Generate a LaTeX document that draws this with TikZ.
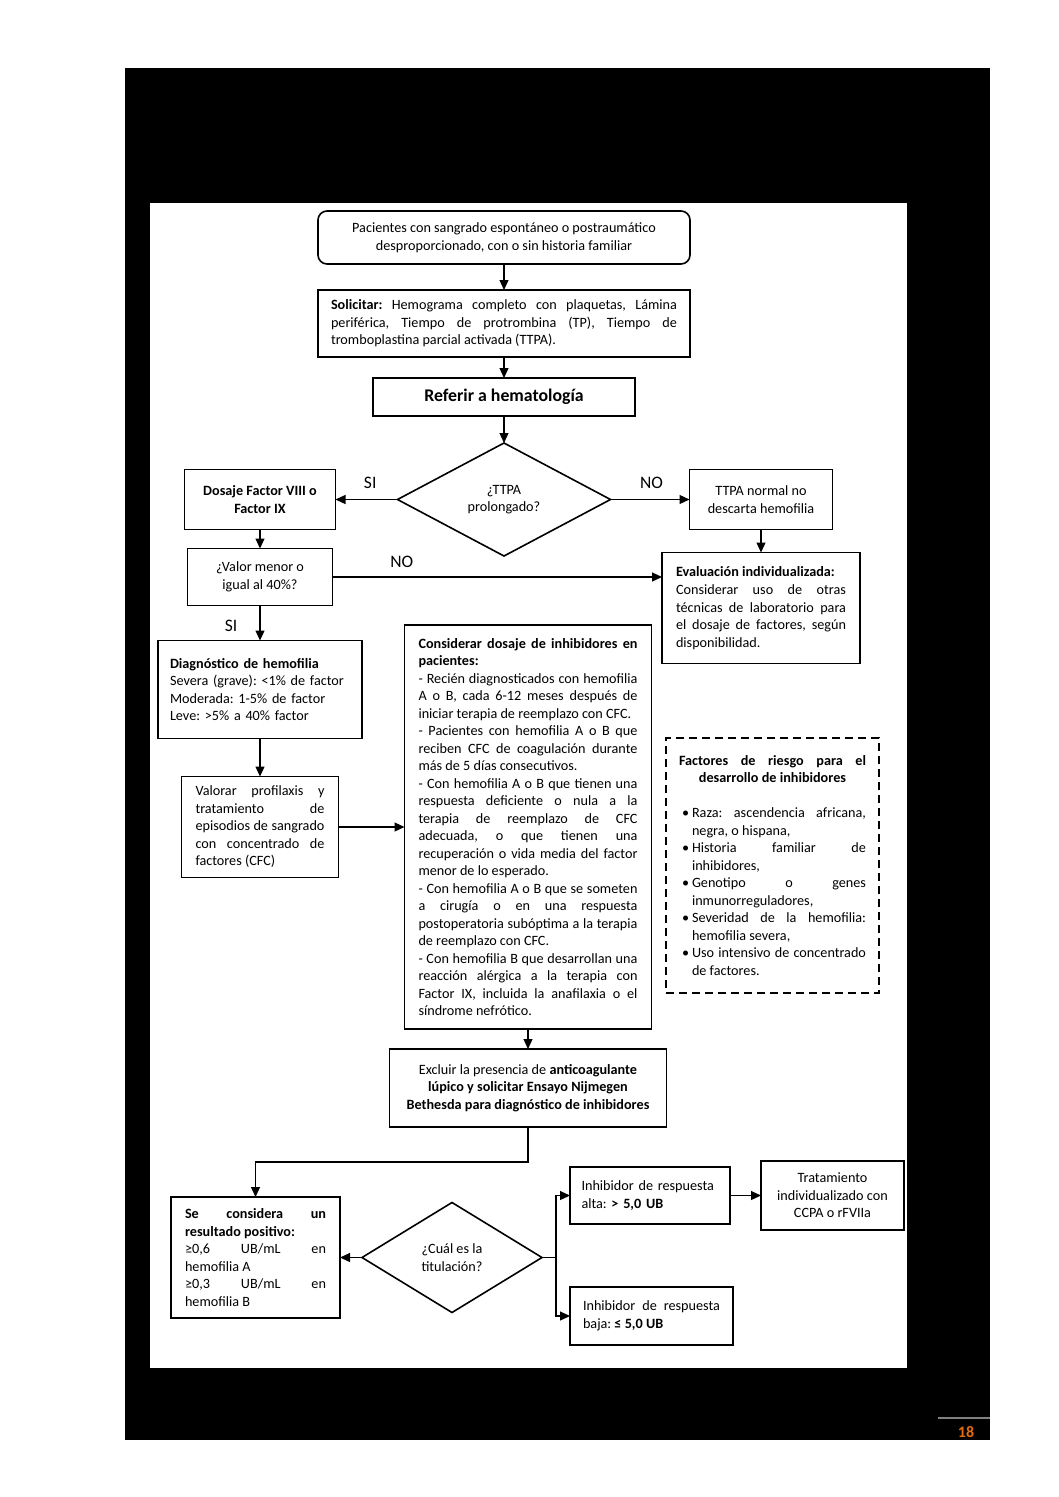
\documentclass[tikz,border=0pt]{standalone}
\usepackage{fontspec}
\setmainfont{Carlito}
\usepackage{xcolor}
\usepackage{tikz}
\usetikzlibrary{%
  shapes.geometric,
  arrows.meta,
  positioning}
\setlength{\parindent}{0pt}
\frenchspacing
\hyphenpenalty=10000
\exhyphenpenalty=10000
\definecolor{pageorange}{RGB}{228,108,10}
\newcommand{\boxfont}{\fontsize{14.2}{17.5}\selectfont}
\newcommand{\riskitem}[1]{\par\hangindent=13pt\hangafter=1%
  \makebox[13pt][l]{\hspace{3pt}\textbullet}#1\par}
\tikzset{
  %% General flow boxes
  flowbox/.style={
    rectangle, draw=black, line width=1.6pt, fill=white,
    inner sep=0pt, outer sep=0pt, align=center, font=\boxfont},
  startbox/.style={flowbox, rounded corners=9pt},
  %% Justified text boxes
  textbox/.style={flowbox, align=justify},
  %% Risk factor box
  riskbox/.style={textbox, line width=1.8pt, dash pattern=on 8pt off 5pt},
  %% Decision diamond
  decision/.style={
    diamond, draw=black, line width=1.6pt, fill=white,
    inner sep=0pt, outer sep=0pt, align=center, font=\boxfont},
  boxsize/.style 2 args={minimum width=#1, minimum height=#2},
  %% Arrows and labels
  arrow/.style={-{Triangle[length=10pt,width=9pt]}, line width=1.2pt, black},
  lbl/.style={font=\fontsize{17.5}{20}\selectfont, inner sep=2pt},
}

\begin{document}
\begin{tikzpicture}[x=1pt, y=-1pt]

  \useasboundingbox (0,0) rectangle (1058,1497);

  %% Page frame
  \fill[black] (125,68) rectangle (990,1440);
  \fill[white] (150,203) rectangle (907,1368);
  \draw[gray, line width=2pt] (938,1418) -- (990,1418);
  \node[font=\fontsize{16}{18}\selectfont\bfseries, text=pageorange] (pagenum) at (966,1432) {18};

  %% Main column
  \node[startbox, boxsize={372pt}{53pt}] (start) at (504,237.5)
    {Pacientes con sangrado espontáneo o postraumático\\
     desproporcionado, con o sin historia familiar};
  \node[textbox, boxsize={372pt}{67pt}, text width=346pt, below=26pt of start] (soli)
    {\textbf{Solicitar:} Hemograma completo con plaquetas, Lámina\linebreak
     periférica, Tiempo de protrombina (TP), Tiempo de\linebreak
     tromboplastina parcial activada (TTPA).};
  \node[flowbox, boxsize={262pt}{38pt}, font=\fontsize{17.8}{20}\selectfont\bfseries,
    below=21pt of soli] (refer) {Referir a hematología};
  \node[decision, boxsize={213pt}{113pt}, below=27pt of refer] (ttpa)
    {¿TTPA\\ prolongado?};

  %% Row: TTPA branches
  \node[flowbox, boxsize={151pt}{60pt}, font=\boxfont\bfseries, left=62pt of ttpa] (dosaje)
    {Dosaje Factor VIII o\\ Factor IX};
  \node[flowbox, boxsize={143pt}{60pt}, right=79pt of ttpa] (normal)
    {TTPA normal no\\ descarta hemofilia};
  \node[textbox, boxsize={198pt}{111pt}, text width=170pt, below=23pt of normal] (evalu)
    {\textbf{Evaluación individualizada:}\\[1pt]
     Considerar uso de otras\linebreak
     técnicas de laboratorio para\linebreak
     el dosaje de factores, según\linebreak
     disponibilidad.};
  \node[flowbox, boxsize={145pt}{57pt}, below=19pt of dosaje] (valor)
    {¿Valor menor o\\ igual al 40\%?};
  \node[flowbox, boxsize={204pt}{98pt}, text width=180pt, align=left,
    below=35pt of valor] (diag)
    {\textbf{Diagnóstico de hemofilia}\\
     Severa (grave): <1\% de factor\\
     Moderada: 1-5\% de factor\\
     Leve: >5\% a 40\% factor};
  \node[textbox, boxsize={157pt}{101pt}, text width=129pt, below=38pt of diag] (valorar)
    {Valorar profilaxis y\linebreak
     tratamiento de\linebreak
     episodios de sangrado\linebreak
     con concentrado de\linebreak
     factores (CFC)};

  %% Inhibitor screening
  \node[textbox, boxsize={247pt}{404pt}, text width=219pt, right=66pt of valorar] (inhib)
    {\textbf{Considerar dosaje de inhibidores en\linebreak pacientes:}\\
     - Recién diagnosticados con hemofilia\linebreak
     A o B, cada 6-12 meses después de\linebreak
     iniciar terapia de reemplazo con CFC.\\
     - Pacientes con hemofilia A o B que\linebreak
     reciben CFC de coagulación durante\linebreak
     más de 5 días consecutivos.\\
     - Con hemofilia A o B que tienen una\linebreak
     respuesta deficiente o nula a la\linebreak
     terapia de reemplazo de CFC\linebreak
     adecuada, o que tienen una\linebreak
     recuperación o vida media del factor\linebreak
     menor de lo esperado.\\
     - Con hemofilia A o B que se someten\linebreak
     a cirugía o en una respuesta\linebreak
     postoperatoria subóptima a la terapia\linebreak
     de reemplazo con CFC.\\
     - Con hemofilia B que desarrollan una\linebreak
     reacción alérgica a la terapia con\linebreak
     Factor IX, incluida la anafilaxia o el\linebreak
     síndrome nefrótico.};
  \node[riskbox, boxsize={213pt}{255pt}, text width=187pt] (riesgo) at (772.5,865.5)
    {{\bfseries Factores de riesgo para el\linebreak
      \hspace*{\fill}desarrollo de inhibidores\hspace*{\fill}}\par
     \vskip17.5pt
     \riskitem{Raza: ascendencia africana,\linebreak negra, o hispana,}
     \riskitem{Historia familiar de\linebreak inhibidores,}
     \riskitem{Genotipo o genes\linebreak inmunorreguladores,}
     \riskitem{Severidad de la hemofilia:\linebreak hemofilia severa,}
     \riskitem{Uso intensivo de concentrado\linebreak de factores.}};
  \node[flowbox, boxsize={277pt}{78pt}, below=20pt of inhib] (excl)
    {Excluir la presencia de \textbf{anticoagulante}\\
     \textbf{lúpico y solicitar Ensayo Nijmegen}\\
     \textbf{Bethesda para diagnóstico de inhibidores}};

  %% Bottom row: titration
  \node[textbox, boxsize={169pt}{121pt}, text width=141pt] (posit) at (255.5,1257.5)
    {\textbf{Se considera un\linebreak resultado positivo:}\\
     ≥0,6 UB/mL en\linebreak hemofilia A\\
     ≥0,3 UB/mL en\linebreak hemofilia B};
  \node[decision, boxsize={180pt}{110pt}, right=22pt of posit] (titul)
    {¿Cuál es la\\ titulación?};
  \node[flowbox, boxsize={160pt}{57pt}, text width=137pt, align=left] (alta) at (650,1195.5)
    {Inhibidor de respuesta\\ alta: \textbf{> 5,0 UB}};
  \node[flowbox, boxsize={143pt}{69pt}, right=31pt of alta] (trat)
    {Tratamiento\\ individualizado con\\ CCPA o rFVIIa};
  \node[textbox, boxsize={163pt}{58pt}, text width=137pt] (baja) at (651.5,1316)
    {Inhibidor de respuesta\linebreak baja: \textbf{≤ 5,0 UB}};

  %% Helper coordinates
  \coordinate[below=35pt of excl.south] (exclB);
  \coordinate[right=14pt of titul.east] (fork);

  %% Main arrows
  \draw[arrow] (start)  -- (soli);
  \draw[arrow] (soli)   -- (refer);
  \draw[arrow] (refer)  -- (ttpa);
  \draw[arrow] (ttpa.west) -- node[lbl, above=8pt, pos=0.44] {SI} (ttpa.west -| dosaje.east);
  \draw[arrow] (ttpa.east) -- node[lbl, above=8pt, pos=0.52] {NO} (ttpa.east -| normal.west);
  \draw[arrow] (normal) -- (evalu);
  \draw[arrow] (dosaje.south) -- (dosaje.south |- valor.north);
  \draw[arrow] (valor.east) -- node[lbl, above=7pt, pos=0.21] {NO} (valor.east -| evalu.west);
  \draw[arrow] (valor)  -- node[lbl, left=20pt, pos=0.57] {SI} (diag);
  \draw[arrow] (diag)   -- (valorar);
  \draw[arrow] (valorar.east) -- (valorar.east -| inhib.west);
  \draw[arrow] (inhib)  -- (excl);
  \draw[arrow] (excl.south) -- (exclB) -| (posit.north);

  %% Titration arrows
  \draw[arrow] (titul)  -- (posit);
  \draw[arrow] (titul.east) -- (fork) |- (alta.west);
  \draw[arrow] (fork)   |- (baja.west);
  \draw[arrow] (alta)   -- (trat);

\end{tikzpicture}
\end{document}
